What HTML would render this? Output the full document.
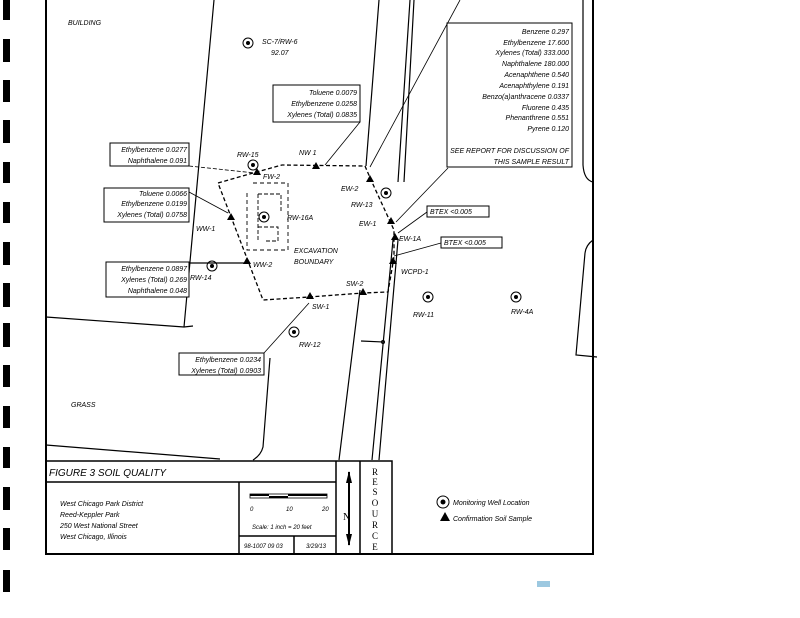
<!DOCTYPE html>
<html><head><meta charset="utf-8"><style>
html,body{margin:0;padding:0;background:#fff;}
svg{display:block;}
text{font-family:"Liberation Sans",sans-serif;font-style:italic;font-size:7px;fill:#000;}
.r{text-anchor:end;}
</style></head><body>
<svg width="800" height="618" viewBox="0 0 800 618" xmlns="http://www.w3.org/2000/svg">
<rect width="800" height="618" fill="#fff"/>
<!-- binder holes -->
<g fill="#000">
<rect x="3" y="0" width="7" height="20"/><rect x="3" y="39" width="7" height="23"/><rect x="3" y="80" width="7" height="22"/>
<rect x="3" y="120" width="7" height="23"/><rect x="3" y="162" width="7" height="21"/><rect x="3" y="202" width="7" height="21"/>
<rect x="3" y="242" width="7" height="23"/><rect x="3" y="283" width="7" height="24"/><rect x="3" y="323" width="7" height="24"/>
<rect x="3" y="365" width="7" height="22"/><rect x="3" y="406" width="7" height="22"/><rect x="3" y="447" width="7" height="21"/>
<rect x="3" y="487" width="7" height="23"/><rect x="3" y="528" width="7" height="22"/><rect x="3" y="570" width="7" height="22"/>
</g>
<!-- frame -->
<path d="M46 0 V554 H593 V0" fill="none" stroke="#000" stroke-width="2"/>
<g fill="none" stroke="#000" stroke-width="1.2">
<!-- building -->
<path d="M214 0 L184 327 M46 317 L184 327 L193 326"/>
<!-- grass -->
<path d="M46 445 L220 459 M270 358 L263 447 Q261 455 253 460"/>
<!-- road lines -->
<path d="M379 0 L366 166 M410 0 L398 182 M414 0 L404 182"/>
<path d="M360 290 L339 460 M393 240 L372 460 M398 240 L379 460"/>
<!-- right lines -->
<path d="M583 0 L583 165 Q584 180 593 182 M585 253 Q586 245 593 240 M585 253 L576 355 L597 357"/>
<path d="M361 341 L383 342"/>
</g>
<circle cx="383" cy="342" r="1.5" fill="none" stroke="#000"/>
<!-- excavation boundary -->
<path d="M218 183 L253 173 L282 165 L365 166 L371 180 L394 230 L394 257 L388 292 L363 293 L309 297 L263 300 Z" fill="none" stroke="#000" stroke-width="1.3" stroke-dasharray="4,2.5"/>
<!-- RW-16A inner dashed -->
<path d="M253 183 H288 V250 H247 V190" fill="none" stroke="#000" stroke-width="0.9" stroke-dasharray="4,3"/>
<path d="M258 194 H281 V213 M258 194 V240 M258 227 H278 V241 H264" fill="none" stroke="#000" stroke-width="0.9" stroke-dasharray="4,2"/>
<!-- callout boxes -->
<g fill="#fff" stroke="#000" stroke-width="1">
<rect x="447" y="23" width="125" height="144"/>
<rect x="273" y="85" width="87" height="37"/>
<rect x="110" y="143" width="79" height="23"/>
<rect x="104" y="188" width="85" height="34"/>
<rect x="427" y="206" width="62" height="11"/>
<rect x="441" y="237" width="61" height="11"/>
<rect x="106" y="262" width="83" height="35"/>
<rect x="179" y="353" width="85" height="22"/>
</g>
<!-- leaders -->
<g fill="none" stroke="#000" stroke-width="0.8">
<path d="M448 168 L396 222"/><path d="M460 0 L370 167"/>
<path d="M360 122 L325 165"/>
<path d="M189 166 L255 173" stroke-dasharray="4,2"/>
<path d="M189 192 L228 213"/>
<path d="M427 212 L398 233"/><path d="M441 243 L394 256"/>
<path d="M189 263 L247 263" stroke-width="1.2"/>
<path d="M264 353 L309 303"/>
</g>
<!-- triangles -->
<g fill="#000">
<path d="M316 162 l4 7 h-8z"/><path d="M257 168 l4 7 h-8z"/><path d="M231 213 l4 7 h-8z"/>
<path d="M247 257 l4 7 h-8z"/><path d="M370 175 l4 7 h-8z"/><path d="M391 217 l4 7 h-8z"/>
<path d="M395 233 l4 7 h-8z"/><path d="M393 257 l4 7 h-8z"/><path d="M363 288 l4 7 h-8z"/>
<path d="M310 292 l4 7 h-8z"/>
<path d="M445 512 l5 9 h-10z"/>
</g>
<!-- wells -->
<g fill="none" stroke="#000" stroke-width="1">
<circle cx="248" cy="43" r="5"/><circle cx="253" cy="165" r="5"/><circle cx="264" cy="217" r="5"/>
<circle cx="386" cy="193" r="5"/><circle cx="212" cy="266" r="5"/><circle cx="428" cy="297" r="5"/>
<circle cx="516" cy="297" r="5"/><circle cx="294" cy="332" r="5"/><circle cx="443" cy="502" r="6"/>
</g>
<g fill="#000">
<circle cx="248" cy="43" r="2"/><circle cx="253" cy="165" r="2"/><circle cx="264" cy="217" r="2"/>
<circle cx="386" cy="193" r="2"/><circle cx="212" cy="266" r="2"/><circle cx="428" cy="297" r="2"/>
<circle cx="516" cy="297" r="2"/><circle cx="294" cy="332" r="2"/><circle cx="443" cy="502" r="2.5"/>
</g>
<!-- labels -->
<text x="68" y="25">BUILDING</text>
<text x="262" y="44">SC-7/RW-6</text><text x="271" y="55">92.07</text>
<g class="r">
<text class="r" x="569" y="34">Benzene 0.297</text>
<text class="r" x="569" y="45">Ethylbenzene 17.600</text>
<text class="r" x="569" y="55">Xylenes (Total) 333.000</text>
<text class="r" x="569" y="66">Naphthalene 180.000</text>
<text class="r" x="569" y="77">Acenaphthene 0.540</text>
<text class="r" x="569" y="88">Acenaphthylene 0.191</text>
<text class="r" x="569" y="99">Benzo(a)anthracene 0.0337</text>
<text class="r" x="569" y="110">Fluorene 0.435</text>
<text class="r" x="569" y="120">Phenanthrene 0.551</text>
<text class="r" x="569" y="131">Pyrene 0.120</text>
<text class="r" x="569" y="153">SEE REPORT FOR DISCUSSION OF</text>
<text class="r" x="569" y="164">THIS SAMPLE RESULT</text>
<text class="r" x="357" y="95">Toluene 0.0079</text>
<text class="r" x="357" y="106">Ethylbenzene 0.0258</text>
<text class="r" x="357" y="117">Xylenes (Total) 0.0835</text>
<text class="r" x="187" y="152">Ethylbenzene 0.0277</text>
<text class="r" x="187" y="163">Naphthalene 0.091</text>
<text class="r" x="187" y="196">Toluene 0.0066</text>
<text class="r" x="187" y="206">Ethylbenzene 0.0199</text>
<text class="r" x="187" y="217">Xylenes (Total) 0.0758</text>
<text class="r" x="187" y="271">Ethylbenzene 0.0897</text>
<text class="r" x="187" y="282">Xylenes (Total) 0.269</text>
<text class="r" x="187" y="293">Naphthalene 0.048</text>
<text class="r" x="261" y="362">Ethylbenzene 0.0234</text>
<text class="r" x="261" y="373">Xylenes (Total) 0.0903</text>
</g>
<text x="430" y="214">BTEX &lt;0.005</text>
<text x="444" y="245">BTEX &lt;0.005</text>
<text x="299" y="155">NW 1</text>
<text x="237" y="157">RW-15</text>
<text x="263" y="179">FW-2</text>
<text x="196" y="231">WW-1</text>
<text x="287" y="220">RW-16A</text>
<text x="253" y="267">WW-2</text>
<text x="190" y="280">RW-14</text>
<text x="341" y="191">EW-2</text>
<text x="351" y="207">RW-13</text>
<text x="359" y="226">EW-1</text>
<text x="399" y="241">EW-1A</text>
<text x="401" y="274">WCPD-1</text>
<text x="294" y="253">EXCAVATION</text>
<text x="294" y="264">BOUNDARY</text>
<text x="346" y="286">SW-2</text>
<text x="312" y="309">SW-1</text>
<text x="413" y="317">RW-11</text>
<text x="511" y="314">RW-4A</text>
<text x="299" y="347">RW-12</text>
<text x="71" y="407">GRASS</text>
<!-- title block -->
<g fill="none" stroke="#000" stroke-width="1.5">
<path d="M46 461 H392 V554 M46 482 H336 M239 482 V554 M336 461 V554 M360 461 V554 M239 536 H336 M294 536 V554"/>
</g>
<text x="49" y="476" style="font-size:10px">FIGURE 3  SOIL QUALITY</text>
<text x="60" y="506">West Chicago Park District</text>
<text x="60" y="517">Reed-Keppler Park</text>
<text x="60" y="528">250 West National Street</text>
<text x="60" y="539">West Chicago, Illinois</text>
<rect x="250" y="494" width="77" height="4" fill="none" stroke="#000" stroke-width="0.8"/>
<rect x="250" y="494" width="19" height="2" fill="#000"/><rect x="269" y="496" width="19" height="2" fill="#000"/><rect x="288" y="494" width="39" height="2" fill="#000"/>
<text x="250" y="511" style="font-size:6px">0</text><text x="286" y="511" style="font-size:6px">10</text><text x="322" y="511" style="font-size:6px">20</text>
<text x="252" y="529" style="font-size:6px">Scale:  1 inch = 20 feet</text>
<text x="244" y="548" style="font-size:6px">98-1007 09 03</text>
<text x="306" y="548" style="font-size:6px">3/29/13</text>
<path d="M349 472 V545" stroke="#000" stroke-width="2"/>
<path d="M349 471 l3 12 h-6z M349 546 l3 -12 h-6z" fill="#000"/>
<text x="343" y="520" style="font-style:normal;font-family:'Liberation Serif',serif;font-size:10px">N</text>
<g style="font-style:normal;font-family:'Liberation Serif',serif;font-size:9px;text-anchor:middle">
<text x="375" y="475" text-anchor="middle" style="font-style:normal;font-family:'Liberation Serif',serif;font-size:9px">R</text>
<text x="375" y="485" text-anchor="middle" style="font-style:normal;font-family:'Liberation Serif',serif;font-size:9px">E</text>
<text x="375" y="495" text-anchor="middle" style="font-style:normal;font-family:'Liberation Serif',serif;font-size:9px">S</text>
<text x="375" y="506" text-anchor="middle" style="font-style:normal;font-family:'Liberation Serif',serif;font-size:9px">O</text>
<text x="375" y="517" text-anchor="middle" style="font-style:normal;font-family:'Liberation Serif',serif;font-size:9px">U</text>
<text x="375" y="528" text-anchor="middle" style="font-style:normal;font-family:'Liberation Serif',serif;font-size:9px">R</text>
<text x="375" y="539" text-anchor="middle" style="font-style:normal;font-family:'Liberation Serif',serif;font-size:9px">C</text>
<text x="375" y="550" text-anchor="middle" style="font-style:normal;font-family:'Liberation Serif',serif;font-size:9px">E</text>
</g>
<text x="453" y="505">Monitoring Well Location</text>
<text x="453" y="521">Confirmation Soil Sample</text>
<rect x="537" y="581" width="13" height="6" fill="#9cc8e0"/>
</svg>
</body></html>
